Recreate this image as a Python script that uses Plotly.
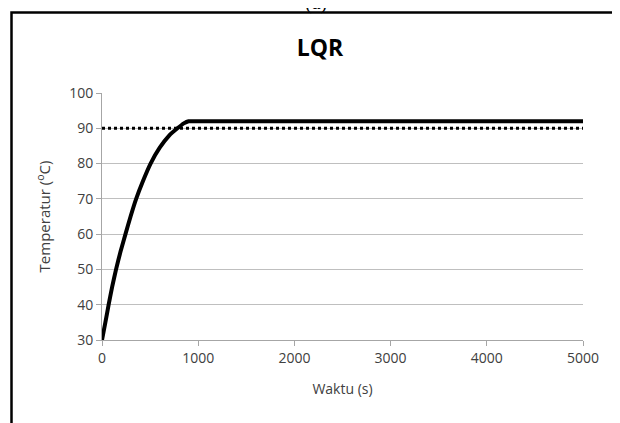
import plotly.graph_objects as go

# data
waktu = [0, 35, 69, 105, 146, 192, 244, 297, 355, 425, 505, 600, 700, 784, 850, 900, 1000, 2000, 3000, 4000, 5000]
temperatur = [30, 35, 40, 45, 50, 55, 60, 65, 70, 75, 80, 84.5, 88, 90, 91.4, 92, 92, 92, 92, 92, 92]
setpoint_x = [0, 5000]
setpoint_y = [90, 90]

# page body adds an 8px margin, so the figure is drawn 8px smaller and shifted
OFF = 8
W, H = 620 - OFF, 423 - OFF
L, R, T, B = 102 - OFF, 37, 93 - OFF, 83
pw, ph = W - L - R, H - T - B

def px(x):
    return (x - OFF - L) / pw

def py(y):
    return (H - B - (y - OFF)) / ph

fig = go.Figure()
fig.add_trace(go.Scatter(x=setpoint_x, y=setpoint_y, mode='lines',
                         line=dict(color='black', width=3, dash='dot'), showlegend=False))
fig.add_trace(go.Scatter(x=waktu, y=temperatur, mode='lines',
                         line=dict(color='black', width=4, shape='spline', smoothing=0.4),
                         showlegend=False))

fig.update_layout(
    width=W, height=H,
    margin=dict(l=L, r=R, t=T, b=B),
    paper_bgcolor='white', plot_bgcolor='white',
    font=dict(family='Open Sans', size=14, color='#404040'),
    title=dict(text='<b>LQR</b>', x=px(320), xref='paper', xanchor='center',
               y=1 - (48 - OFF) / H, yanchor='middle', font=dict(size=23, color='black')),
    xaxis=dict(range=[0, 5000], tickvals=[0, 1000, 2000, 3000, 4000, 5000],
               showgrid=False, showline=True, linecolor='#a6a6a6', linewidth=1,
               ticks='outside', ticklen=5, tickcolor='#a6a6a6', zeroline=False,
               title=dict(text='Waktu (s)', standoff=18, font=dict(size=14))),
    yaxis=dict(range=[30, 100], tickvals=list(range(30, 101, 10)),
               showgrid=True, gridcolor='#bfbfbf', gridwidth=1,
               showline=True, linecolor='#a6a6a6', linewidth=1,
               ticks='outside', ticklen=5, tickcolor='#a6a6a6', zeroline=False,
               title=dict(text='Temperatur (<sup>o</sup>C)', standoff=14, font=dict(size=15))),
    shapes=[dict(type='rect', xref='paper', yref='paper',
                 x0=px(11.5), x1=px(613.5), y0=py(440), y1=py(12.5),
                 line=dict(color='black', width=2.5), layer='below')],
    annotations=[dict(text='(a)', xref='paper', yref='paper', x=px(316), y=py(15.5),
                      xanchor='center', yanchor='bottom', showarrow=False,
                      font=dict(family='Liberation Serif', size=20, color='black'))],
)

fig.write_html("out.html")
